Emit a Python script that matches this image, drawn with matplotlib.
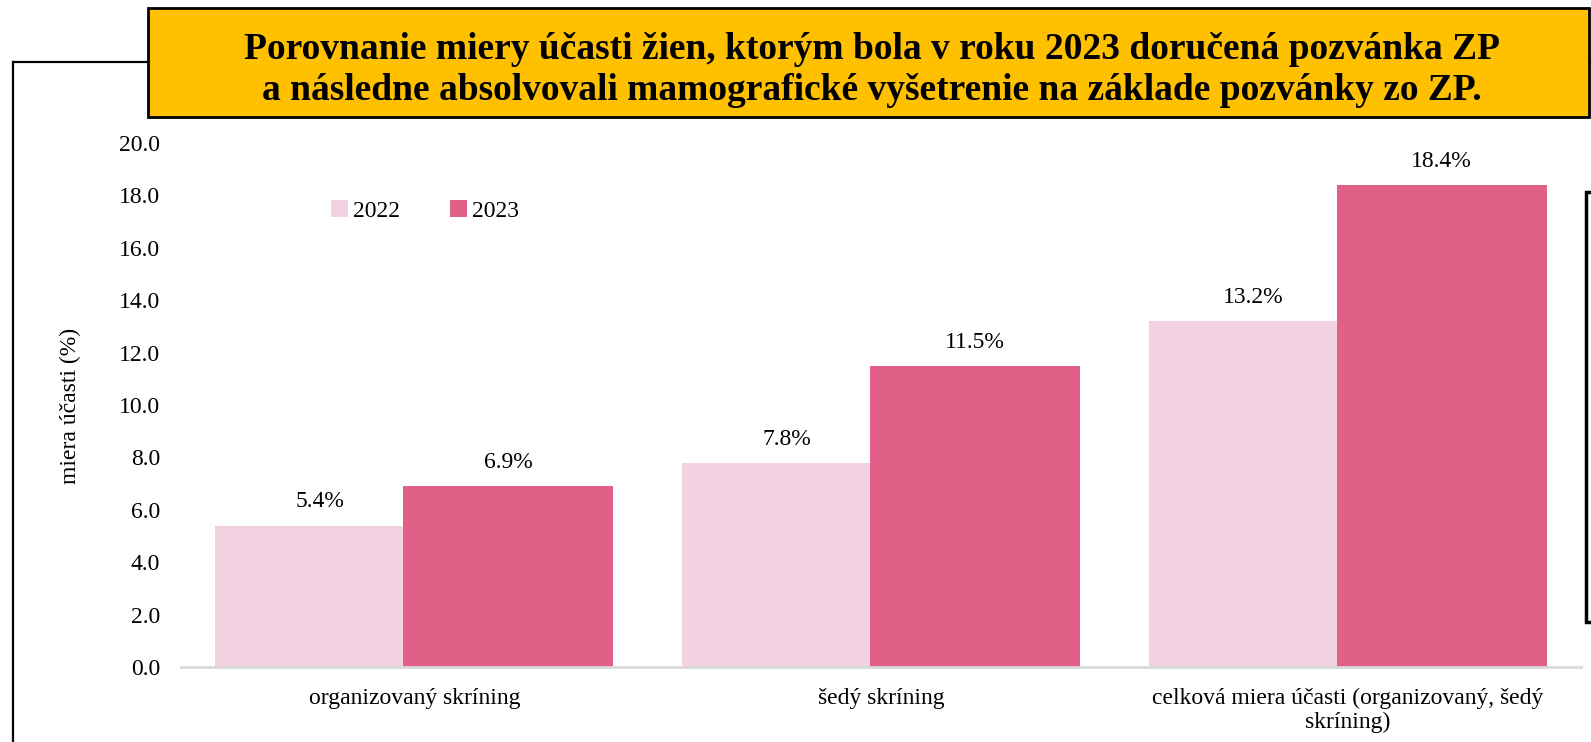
import numpy as np
import matplotlib.pyplot as plt
from matplotlib.patches import Rectangle
from matplotlib.lines import Line2D

categories = ["organizovaný skríning", "šedý skríning",
              "celková miera účasti (organizovaný, šedý\nskríning)"]
years = ["2022", "2023"]
vals_2022 = [5.4, 7.8, 13.2]
vals_2023 = [6.9, 11.5, 18.4]
yticks = [0, 2, 4, 6, 8, 10, 12, 14, 16, 18, 20]
title = ("Porovnanie miery účasti žien, ktorým bola v roku 2023 doručená pozvánka ZP\n"
         "a následne absolvovali mamografické vyšetrenie na základe pozvánky zo ZP.")

plt.rcParams['font.family'] = ['Liberation Serif', 'DejaVu Serif']

W, H = 1591, 742
fig = plt.figure(figsize=(W / 100, H / 100), dpi=100)

def fx(x):
    return x / W

def fy(y):
    return 1 - y / H

# axes placed in pixel coords of the reference
ax = fig.add_axes([fx(181), fy(667), fx(1581) - fx(181), fy(143) - fy(667)])

c22 = "#F2D2E1"
c23 = "#E06087"
x = np.arange(len(categories))
w = 0.45
off = 0.2014
b1 = ax.bar(x - off, vals_2022, w, color=c22, label=years[0], zorder=2)
b2 = ax.bar(x + off, vals_2023, w, color=c23, label=years[1], zorder=3)

for bars in (b1, b2):
    for r in bars:
        ax.annotate(f"{r.get_height():.1f}%", (r.get_x() + r.get_width() / 2, r.get_height()),
                    xytext=(0, 17), textcoords="offset points", ha="center", va="center",
                    fontsize=17)

ax.set_xlim(-0.5, 2.5)
ax.set_ylim(0, 20)
ax.set_yticks(yticks)
ax.set_yticklabels([f"{v:.1f}" for v in yticks], fontsize=17)
ax.set_xticks(x)
ax.set_xticklabels(categories, fontsize=17, linespacing=1.2)
ax.tick_params(axis='x', length=0, pad=15)
ax.tick_params(axis='y', length=0, pad=15)
for s in ["top", "right", "left"]:
    ax.spines[s].set_visible(False)
ax.spines["bottom"].set_color("#d9d9d9")
ax.spines["bottom"].set_linewidth(2)
ax.spines["bottom"].set_zorder(4)

fig.text(fx(70), fy(406), "miera účasti (%)", rotation=90, ha="center", va="center", fontsize=17)

leg = ax.legend(loc="center left", frameon=False, borderpad=0, borderaxespad=0,
                ncol=2, fontsize=17, handlelength=0.7, handleheight=0.7, handletextpad=0.25,
                columnspacing=2.1)
leg.set_bbox_to_anchor((fx(331), fy(211)), transform=fig.transFigure)

# outer frame (left and top)
fig.add_artist(Line2D([fx(13), fx(13)], [fy(62), 0], transform=fig.transFigure, color="black",
                      lw=1.6, zorder=0))
fig.add_artist(Line2D([fx(13), 1], [fy(62), fy(62)], transform=fig.transFigure, color="black",
                      lw=1.6, zorder=0))
# small partial box at the right
fig.add_artist(Rectangle((fx(1586), fy(622)), fx(30), fy(192) - fy(622), transform=fig.transFigure,
                         facecolor="white", edgecolor="black", lw=2.5))
# title box
fig.add_artist(Rectangle((fx(148), fy(117)), fx(1589) - fx(148), fy(8) - fy(117),
                         transform=fig.transFigure, facecolor="#FFC000", edgecolor="black",
                         lw=2, zorder=5))
fig.text(fx(872), fy(70), title, ha="center", va="center", fontsize=27, fontweight="bold",
         linespacing=1.2, zorder=6)

fig.savefig("out.png", dpi=100)
